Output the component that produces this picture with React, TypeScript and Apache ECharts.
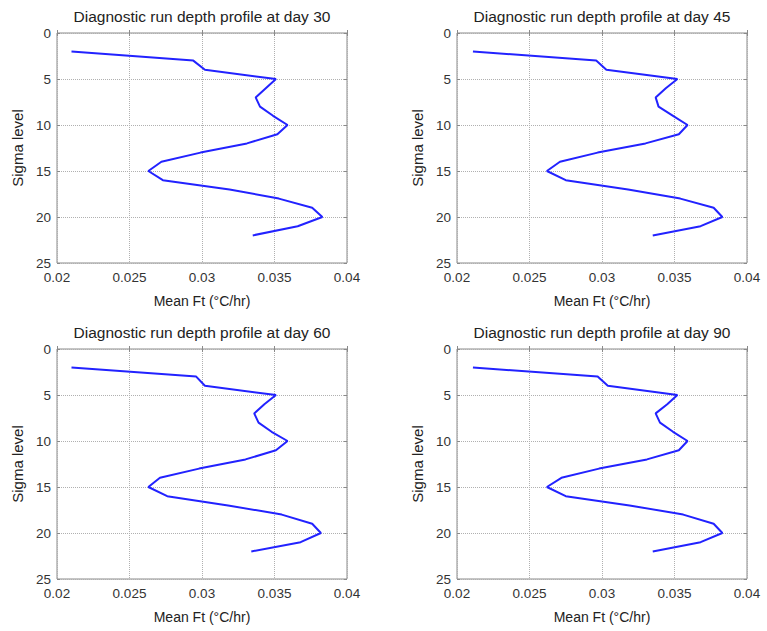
import React, { useEffect, useRef } from "react";
import * as echarts from "echarts";

const sigmaLevels = [2, 3, 4, 5, 6, 7, 8, 9, 10, 11, 12, 13, 14, 15, 16, 17, 18, 19, 20, 21, 22];
const ftDay30 = [0.0210, 0.0294, 0.0302, 0.0351, 0.0344, 0.0337, 0.0340, 0.0349, 0.0359, 0.0352, 0.0331, 0.0299, 0.0272, 0.0263, 0.0273, 0.0319, 0.0353, 0.0376, 0.0383, 0.0366, 0.0335];
const ftDay45 = [0.0211, 0.0296, 0.0303, 0.0352, 0.0344, 0.0337, 0.0339, 0.0349, 0.0359, 0.0353, 0.0330, 0.0297, 0.0271, 0.0262, 0.0275, 0.0318, 0.0354, 0.0377, 0.0383, 0.0368, 0.0335];
const ftDay60 = [0.0210, 0.0296, 0.0302, 0.0351, 0.0343, 0.0336, 0.0339, 0.0348, 0.0359, 0.0351, 0.0330, 0.0298, 0.0271, 0.0263, 0.0276, 0.0318, 0.0355, 0.0376, 0.0382, 0.0368, 0.0334];
const ftDay90 = [0.0211, 0.0297, 0.0304, 0.0352, 0.0345, 0.0337, 0.0340, 0.0349, 0.0359, 0.0353, 0.0331, 0.0298, 0.0272, 0.0262, 0.0275, 0.0319, 0.0356, 0.0377, 0.0383, 0.0368, 0.0335];
const days = [30, 45, 60, 90];
const panelSeries = [ftDay30, ftDay45, ftDay60, ftDay90];

const FONT = "'Liberation Sans', Arial, Helvetica, sans-serif";

export default function App() {
  const ref = useRef<HTMLDivElement>(null);

  useEffect(() => {
    const chart = echarts.init(ref.current!, null, { renderer: "svg" });
    const gridPos = [
      { left: 57, top: 33 },
      { left: 457, top: 33 },
      { left: 57, top: 349 },
      { left: 457, top: 349 },
    ];
    const W = 290;
    const H = 230;
    const grid = gridPos.map((g) => ({
      left: g.left,
      top: g.top,
      width: W,
      height: H,
      show: true,
      borderColor: "#8a8a8a",
      borderWidth: 1,
      backgroundColor: "transparent",
    }));
    const title = gridPos.map((g, i) => ({
      text: "Diagnostic run depth profile at day " + days[i],
      left: g.left + W / 2,
      top: g.top - 25,
      textAlign: "center",
      padding: 0,
      textStyle: { fontFamily: FONT, fontSize: 15.5, fontWeight: "normal", color: "#222" },
    }));
    const xAxis: any[] = [];
    const yAxis: any[] = [];
    gridPos.forEach((_, i) => {
      xAxis.push({
        type: "value",
        gridIndex: i,
        min: 0.02,
        max: 0.04,
        interval: 0.005,
        position: "bottom",
        name: "Mean Ft (°C/hr)",
        nameLocation: "middle",
        nameGap: 31,
        nameTextStyle: { fontFamily: FONT, fontSize: 14, color: "#222" },
        axisLine: { show: false },
        axisTick: { show: true, inside: true, length: 3, lineStyle: { color: "#8a8a8a" } },
        axisLabel: { fontFamily: FONT, fontSize: 13.5, color: "#333", margin: 7 },
        splitLine: { show: true, lineStyle: { type: "dotted", color: "#b0b0b0", width: 1 } },
      });
      yAxis.push({
        type: "value",
        gridIndex: i,
        min: 0,
        max: 25,
        interval: 5,
        inverse: true,
        position: "left",
        name: "Sigma level",
        nameLocation: "middle",
        nameRotate: 90,
        nameGap: 32,
        nameTextStyle: { fontFamily: FONT, fontSize: 15, color: "#222" },
        axisLine: { show: false },
        axisTick: { show: true, inside: true, length: 3, lineStyle: { color: "#8a8a8a" } },
        axisLabel: { fontFamily: FONT, fontSize: 13.5, color: "#333", margin: 6 },
        splitLine: { show: true, lineStyle: { type: "dotted", color: "#b0b0b0", width: 1 } },
      });
    });
    gridPos.forEach((_, i) => {
      xAxis.push({
        type: "value",
        gridIndex: i,
        min: 0.02,
        max: 0.04,
        interval: 0.005,
        position: "top",
        axisLine: { show: false },
        axisTick: { show: true, inside: true, length: 3, lineStyle: { color: "#8a8a8a" } },
        axisLabel: { show: false },
        splitLine: { show: false },
      });
      yAxis.push({
        type: "value",
        gridIndex: i,
        min: 0,
        max: 25,
        interval: 5,
        inverse: true,
        position: "right",
        axisLine: { show: false },
        axisTick: { show: true, inside: true, length: 3, lineStyle: { color: "#8a8a8a" } },
        axisLabel: { show: false },
        splitLine: { show: false },
      });
    });
    const series = panelSeries.map((vals, i) => ({
      type: "line",
      xAxisIndex: i,
      yAxisIndex: i,
      showSymbol: false,
      symbol: "none",
      data: sigmaLevels.map((s, k) => [vals[k], s]),
      lineStyle: { color: "#2222ff", width: 2 },
    }));
    chart.setOption({
      animation: false,
      backgroundColor: "#ffffff",
      title,
      grid,
      xAxis,
      yAxis,
      series,
    });
    return () => chart.dispose();
  }, []);

  return (
    <div
      ref={ref}
      style={{ position: "absolute", left: 0, top: 0, width: 767, height: 631, background: "#fff" }}
    />
  );
}
